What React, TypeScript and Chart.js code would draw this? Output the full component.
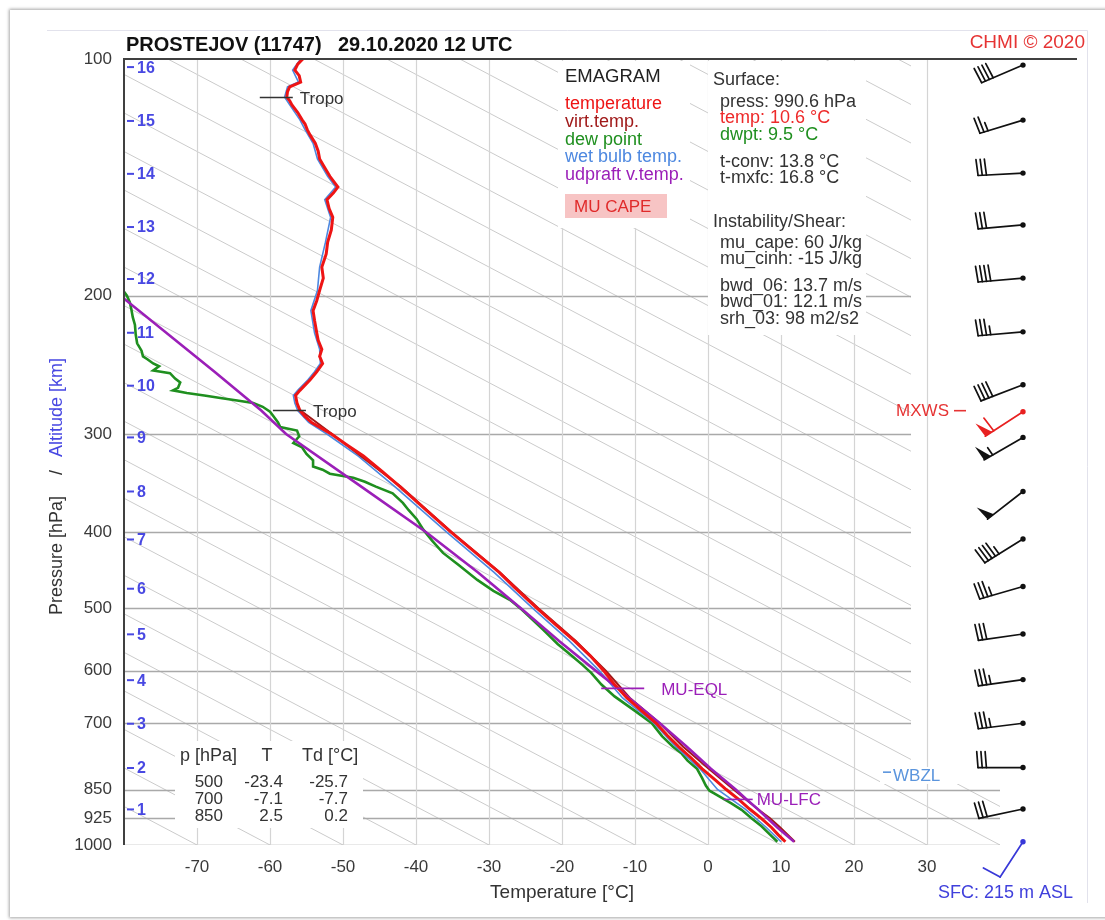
import React, { useEffect, useRef } from 'react';
import { Chart, registerables } from 'chart.js';

Chart.register(...registerables);

const FONT = "'Liberation Sans', Arial, Helvetica, sans-serif";

// ---------- axes ----------
const pressureTicks = [100, 200, 300, 400, 500, 600, 700, 850, 925, 1000];
const temperatureTicks = [-70, -60, -50, -40, -30, -20, -10, 0, 10, 20, 30];
// reference diagonal lines: temperature where each line meets 1000 hPa
const diagonalBaseT = [-80, -70, -60, -50, -40, -30, -20, -10, 0, 10, 20, 30, 40, 50, 60, 70, 80, 90, 100, 110, 120, 130, 140, 150, 160, 170, 180, 190, 200, 210, 220, 230, 240];
const diagonalSkew = 204; // °C shift per pressure decade

// ---------- temperature ----------
const tempP = [990.6, 970, 950, 925, 900, 875, 850, 825, 800, 775, 750, 725, 700, 675, 650, 625, 600, 575, 550, 525, 500, 475, 450, 425, 400, 375, 350, 335, 320, 310, 300, 294, 290, 285, 280, 274, 268, 264, 256, 250, 244, 239, 234, 228, 223, 215, 209, 203, 197, 190, 184, 177, 171, 165, 159, 155, 151, 148, 145.5, 141, 137, 134, 131, 128, 125, 123, 121, 119.5, 117, 114.4, 113, 111.8, 110, 108.5, 107, 105, 103.3, 101.5, 100];
const tempT = [10.6, 9.6, 8.7, 7.3, 5.7, 4.2, 2.5, 0.9, -0.8, -2.3, -4.0, -5.6, -7.1, -9.1, -11.1, -12.8, -14.3, -16.1, -18.3, -20.8, -23.4, -26.0, -28.6, -31.8, -35.2, -38.6, -42.2, -44.6, -47.2, -49.4, -51.6, -53.2, -54.3, -55.2, -55.9, -56.3, -56.5, -55.9, -54.5, -53.6, -52.8, -53.2, -52.9, -53.4, -53.6, -53.9, -54.1, -53.6, -53.2, -52.7, -52.9, -52.3, -52.1, -51.6, -51.4, -51.9, -52.2, -51.3, -50.7, -51.8, -52.6, -53.2, -53.4, -53.8, -54.5, -54.9, -55.2, -55.6, -56.2, -57.0, -57.3, -57.7, -57.6, -57.3, -55.8, -56.0, -56.6, -56.2, -55.5];

// ---------- virtual temperature ----------
const virtP = [990.6, 950, 925, 900, 850, 800, 750, 700, 650, 600, 550, 500, 450, 400, 350, 300, 280];
const virtT = [11.9, 9.9, 8.5, 6.8, 3.5, 0.1, -3.4, -6.6, -10.7, -14.0, -18.1, -23.2, -28.5, -35.1, -42.1, -51.5, -55.8];

// ---------- dew point ----------
const dewP = [990.6, 970, 946, 925, 902, 885, 871, 860, 853, 840, 822, 800, 781, 765, 750, 727, 700, 675, 647, 625, 604, 590, 576, 555, 532, 515, 500, 488, 475, 460, 440, 425, 410, 397, 385, 375, 367, 357, 350, 345, 341, 337, 333, 330, 324, 318, 312, 308, 302, 297, 294, 290, 285, 281, 277, 274, 272, 270, 268, 266, 264, 262, 258, 255, 251, 249, 246, 244, 241, 239, 235, 230, 224, 218, 213, 208, 204, 200, 195, 190];
const dewT = [9.5, 8.5, 7.3, 6.0, 4.6, 3.2, 1.9, 0.9, 0.2, -0.3, -0.8, -1.5, -2.8, -3.6, -4.8, -6.3, -7.7, -10.0, -12.8, -14.6, -16.0, -17.2, -18.5, -20.6, -22.6, -24.2, -25.7, -27.1, -29.4, -31.6, -34.2, -36.3, -37.8, -39.0, -39.9, -41.0, -41.8, -43.2, -45.5, -47.0, -48.6, -51.8, -52.8, -54.1, -54.1, -55.0, -55.6, -56.8, -56.0, -56.3, -58.6, -58.9, -59.5, -60.0, -61.0, -62.3, -64.5, -66.8, -69.0, -71.4, -73.3, -72.6, -72.3, -73.0, -73.7, -76.0, -75.2, -76.0, -76.8, -77.4, -77.6, -78.2, -78.4, -78.5, -78.8, -79.0, -79.2, -79.6, -80.5, -82.0];

// ---------- wet bulb ----------
const wetP = [990.6, 950, 900, 850, 800, 750, 700, 650, 600, 550, 500, 450, 400, 350, 320, 300, 290, 280, 274, 268, 264, 256, 250, 244, 234, 223, 209, 197, 184, 171, 159, 151, 145.5, 141, 134, 128, 123, 119.5, 114.4, 111.8, 108.5, 107, 103.3, 100];
const wetT = [10.0, 8.0, 5.1, 1.3, -1.1, -4.4, -7.4, -11.7, -14.9, -19.0, -24.0, -29.3, -35.8, -42.9, -47.9, -52.2, -54.7, -56.2, -56.6, -56.8, -56.2, -54.8, -53.9, -53.1, -53.2, -53.9, -54.4, -53.5, -53.2, -52.4, -51.7, -52.5, -51.0, -52.1, -53.5, -54.1, -55.2, -55.9, -57.3, -58.0, -57.6, -56.1, -56.9, -55.8];

// ---------- updraft virtual temperature ----------
const updP = [990.6, 950, 900, 875, 850, 800, 750, 700, 650, 632, 600, 550, 500, 450, 400, 350, 300, 280, 250, 200, 190];
const updT = [11.8, 9.5, 6.8, 5.3, 3.8, 0.4, -2.9, -6.6, -10.8, -12.3, -15.4, -20.4, -25.6, -31.5, -38.6, -47.5, -57.8, -61.2, -67.6, -80.5, -83.0];

// ---------- altitude scale (km) ----------
const altKm = [16, 15, 14, 13, 12, 11, 10, 9, 8, 7, 6, 5, 4, 3, 2, 1];
const altP = [102.4, 119.9, 140, 163.6, 190.5, 223, 260.4, 303, 355, 408.6, 472, 539.5, 617, 701, 798, 901];

// ---------- winds ----------
const windP = [101.8, 119.6, 139.7, 162.6, 190, 222.4, 259.7, 281, 303, 355, 408, 469, 539, 616, 700, 797, 900, 990.6];
const windDir = [247, 253, 267, 265, 265, 265, 249, 237, 240, 232, 238, 254, 262, 262, 263, 270, 258, 213];
const windSpd = [40, 25, 30, 30, 40, 35, 40, 60, 55, 50, 45, 35, 30, 35, 35, 30, 30, 10];
const windKind = ['n', 'n', 'n', 'n', 'n', 'n', 'n', 'max', 'n', 'n', 'n', 'n', 'n', 'n', 'n', 'n', 'n', 'sfc'];

// ---------- level markers ----------
const tropoP = [111.8, 280];
const tropoT = [-57.7, -55.9];
const eqlP = 632;
const eqlT = -12.3;
const lfcP = 875;
const lfcT = 5.3;
const wbzlP = 815;
const mxwsP = 281;

// ---------- table ----------
const tableP = [500, 700, 850];
const tableT = [-23.4, -7.1, 2.5];
const tableTd = [-25.7, -7.7, 0.2];

// ---------- texts ----------
const legendItems = ['temperature', 'virt.temp.', 'dew point', 'wet bulb temp.', 'udpraft v.temp.'];
const surfaceLines = ['press: 990.6 hPa', 'temp: 10.6 °C', 'dwpt: 9.5 °C'];
const convLines = ['t-conv: 13.8 °C', 't-mxfc: 16.8 °C'];
const instLines = ['mu_cape: 60 J/kg', 'mu_cinh: -15 J/kg'];
const shearLines = ['bwd_06: 13.7 m/s', 'bwd_01: 12.1 m/s', 'srh_03: 98 m2/s2'];

const C_RED = '#ee1414';
const C_VIRT = '#a01a1a';
const C_GREEN = '#1f8f1f';
const C_BLUE = '#4d88e0';
const C_PURPLE = '#9b1fb8';
const C_ALT = '#4848e2';
const C_TEXT = '#333333';

const pts = (p: number[], t: number[]) => p.map((v, i) => ({ x: t[i], y: v }));

function drawBarb(ctx: CanvasRenderingContext2D, cx: number, cy: number, dir: number, spd: number, color: string, L: number, fl: number) {
  const th = (dir * Math.PI) / 180;
  const dx = Math.sin(th);
  const dy = -Math.cos(th);
  const tx = cx + dx * L;
  const ty = cy + dy * L;
  let fx = -dy + dx * 0.08;
  let fy = dx + dy * 0.08;
  const n = Math.hypot(fx, fy);
  fx /= n; fy /= n;
  ctx.save();
  ctx.strokeStyle = color;
  ctx.fillStyle = color;
  ctx.lineWidth = 1.7;
  ctx.lineCap = 'round';
  ctx.beginPath();
  ctx.moveTo(cx, cy);
  ctx.lineTo(tx, ty);
  ctx.stroke();
  ctx.beginPath();
  ctx.arc(cx, cy, 2.7, 0, Math.PI * 2);
  ctx.fill();
  let rem = Math.round(spd / 5) * 5;
  let pos = 0;
  const sp = 4.2;
  while (rem >= 50) {
    const bx = tx - dx * pos, by = ty - dy * pos;
    const ex = tx - dx * (pos + 8), ey = ty - dy * (pos + 8);
    ctx.beginPath();
    ctx.moveTo(bx, by);
    ctx.lineTo(bx + fx * fl, by + fy * fl);
    ctx.lineTo(ex, ey);
    ctx.closePath();
    ctx.fill();
    pos += 10;
    rem -= 50;
  }
  while (rem >= 10) {
    const bx = tx - dx * pos, by = ty - dy * pos;
    ctx.beginPath();
    ctx.moveTo(bx, by);
    ctx.lineTo(bx + fx * fl, by + fy * fl);
    ctx.stroke();
    pos += sp;
    rem -= 10;
  }
  if (rem >= 5) {
    if (pos === 0) pos = sp;
    const bx = tx - dx * pos, by = ty - dy * pos;
    ctx.beginPath();
    ctx.moveTo(bx, by);
    ctx.lineTo(bx + fx * fl * 0.55, by + fy * fl * 0.55);
    ctx.stroke();
  }
  ctx.restore();
}

const backgroundPlugin = {
  id: 'emagramBackground',
  beforeDatasetsDraw(chart: any) {
    const { ctx, chartArea: a, scales } = chart;
    const x = scales.x, y = scales.y;
    ctx.save();
    ctx.beginPath();
    ctx.rect(a.left, a.top, a.right - a.left, a.bottom - a.top);
    ctx.clip();
    // diagonal reference lines
    ctx.strokeStyle = '#cbcbcb';
    ctx.lineWidth = 1;
    for (const t0 of diagonalBaseT) {
      ctx.beginPath();
      ctx.moveTo(x.getPixelForValue(t0), y.getPixelForValue(1000));
      ctx.lineTo(x.getPixelForValue(t0 - diagonalSkew), y.getPixelForValue(100));
      ctx.stroke();
    }
    // isobars
    ctx.strokeStyle = '#a9a9a9';
    ctx.lineWidth = 1.6;
    for (const p of pressureTicks) {
      if (p === 100) continue;
      const py = Math.round(y.getPixelForValue(p)) + 0.5;
      ctx.beginPath();
      ctx.moveTo(a.left, py);
      ctx.lineTo(a.right, py);
      ctx.stroke();
    }
    ctx.restore();
    ctx.save();
    // wind panel background
    ctx.fillStyle = '#ffffff';
    ctx.fillRect(911, a.top + 1, a.right - 911 + 2, 780 - a.top);
    // isotherms
    ctx.strokeStyle = '#d4d4d4';
    ctx.lineWidth = 1.2;
    for (const t of temperatureTicks) {
      const px = Math.round(x.getPixelForValue(t)) + 0.5;
      ctx.beginPath();
      ctx.moveTo(px, a.top);
      ctx.lineTo(px, a.bottom);
      ctx.stroke();
    }
    // text boxes
    ctx.fillStyle = '#ffffff';
    ctx.fillRect(558, a.top + 2, 132, 167);
    ctx.fillRect(708, a.top + 2, 158, 274);
    ctx.fillRect(175, 741, 188, 87);
    ctx.fillRect(880, 767, 96, 17);
    ctx.restore();
  },
  afterDatasetsDraw(chart: any) {
    const { ctx, chartArea: a, scales } = chart;
    const x = scales.x, y = scales.y;
    ctx.save();
    ctx.textBaseline = 'middle';

    // frame
    ctx.strokeStyle = '#e2e2ec';
    ctx.lineWidth = 1;
    ctx.beginPath();
    ctx.moveTo(47, 30.5);
    ctx.lineTo(1087.5, 30.5);
    ctx.lineTo(1087.5, 903);
    ctx.stroke();

    // top border and left axis
    ctx.strokeStyle = '#404040';
    ctx.lineWidth = 2;
    ctx.beginPath();
    ctx.moveTo(a.left - 1, a.top);
    ctx.lineTo(1077, a.top);
    ctx.stroke();
    ctx.beginPath();
    ctx.moveTo(a.left, a.top);
    ctx.lineTo(a.left, a.bottom);
    ctx.stroke();

    // title
    ctx.fillStyle = '#111';
    ctx.font = `bold 20px ${FONT}`;
    ctx.textAlign = 'left';
    ctx.fillText('PROSTEJOV (11747)', 126, 45);
    ctx.fillText('29.10.2020 12 UTC', 338, 45);
    ctx.fillStyle = '#e63434';
    ctx.font = `19px ${FONT}`;
    ctx.textAlign = 'right';
    ctx.fillText('CHMI © 2020', 1085, 43);

    // y axis title
    ctx.save();
    ctx.translate(57, 615);
    ctx.rotate(-Math.PI / 2);
    ctx.textAlign = 'left';
    ctx.font = `18px ${FONT}`;
    ctx.fillStyle = C_TEXT;
    ctx.fillText('Pressure [hPa]', 0, 0);
    ctx.fillText('/', 140, 0);
    ctx.fillStyle = C_ALT;
    ctx.fillText('Altitude [km]', 158, 0);
    ctx.restore();

    // altitude labels
    ctx.font = `bold 16px ${FONT}`;
    ctx.textAlign = 'left';
    ctx.fillStyle = C_ALT;
    ctx.strokeStyle = C_ALT;
    ctx.lineWidth = 2;
    altKm.forEach((km, i) => {
      const py = y.getPixelForValue(altP[i]);
      ctx.beginPath();
      ctx.moveTo(a.left + 3, py);
      ctx.lineTo(a.left + 10, py);
      ctx.stroke();
      ctx.fillText(String(km), a.left + 13, py + 1);
    });

    // legend
    ctx.fillStyle = '#222';
    ctx.font = `18.5px ${FONT}`;
    ctx.fillText('EMAGRAM', 565, 77);
    const legendColors = [C_RED, C_VIRT, C_GREEN, C_BLUE, C_PURPLE];
    ctx.font = `18px ${FONT}`;
    legendItems.forEach((t, i) => {
      ctx.fillStyle = legendColors[i];
      ctx.fillText(t, 565, 104 + i * 17.8);
    });
    ctx.fillStyle = '#f7c4c4';
    ctx.fillRect(565, 194, 102, 24);
    ctx.fillStyle = '#e02a2a';
    ctx.font = `17px ${FONT}`;
    ctx.fillText('MU CAPE', 574, 207);

    // info box
    ctx.font = `18px ${FONT}`;
    ctx.fillStyle = C_TEXT;
    ctx.fillText('Surface:', 713, 80);
    const surfColors = [C_TEXT, '#ee2a2a', C_GREEN];
    surfaceLines.forEach((t, i) => {
      ctx.fillStyle = surfColors[i];
      ctx.fillText(t, 720, 102 + i * 16.5);
    });
    ctx.fillStyle = C_TEXT;
    convLines.forEach((t, i) => ctx.fillText(t, 720, 162 + i * 16.5));
    ctx.fillText('Instability/Shear:', 713, 222);
    instLines.forEach((t, i) => ctx.fillText(t, 720, 243 + i * 16.5));
    shearLines.forEach((t, i) => ctx.fillText(t, 720, 286 + i * 16.5));

    // table
    ctx.font = `18px ${FONT}`;
    ctx.fillStyle = C_TEXT;
    ctx.textAlign = 'left';
    ctx.fillText('p [hPa]', 180, 756);
    ctx.textAlign = 'center';
    ctx.fillText('T', 267, 756);
    ctx.textAlign = 'left';
    ctx.fillText('Td [°C]', 302, 756);
    ctx.textAlign = 'right';
    ctx.font = `17px ${FONT}`;
    tableP.forEach((p, i) => {
      const ry = 782 + i * 17;
      ctx.fillText(String(p), 223, ry);
      ctx.fillText(tableT[i].toFixed(1), 283, ry);
      ctx.fillText(tableTd[i].toFixed(1), 348, ry);
    });

    // tropopause markers
    ctx.textAlign = 'left';
    ctx.font = `17px ${FONT}`;
    ctx.strokeStyle = '#333';
    ctx.lineWidth = 1.6;
    tropoP.forEach((p, i) => {
      const px = x.getPixelForValue(tropoT[i]);
      const py = Math.round(y.getPixelForValue(p)) + 0.5;
      ctx.beginPath();
      ctx.moveTo(px - 27, py);
      ctx.lineTo(px + 6, py);
      ctx.stroke();
      ctx.fillStyle = C_TEXT;
      ctx.fillText('Tropo', px + 13, py + 2);
    });

    // MU-EQL / MU-LFC
    ctx.strokeStyle = C_PURPLE;
    ctx.fillStyle = C_PURPLE;
    ctx.lineWidth = 1.6;
    {
      const px = x.getPixelForValue(eqlT);
      const py = y.getPixelForValue(eqlP);
      ctx.beginPath();
      ctx.moveTo(px - 17, py);
      ctx.lineTo(px + 26, py);
      ctx.stroke();
      ctx.fillText('MU-EQL', px + 43, py + 2);
    }
    {
      const px = x.getPixelForValue(lfcT);
      const py = y.getPixelForValue(lfcP);
      ctx.beginPath();
      ctx.moveTo(px - 23, py);
      ctx.lineTo(px + 6, py);
      ctx.stroke();
      ctx.fillText('MU-LFC', px + 10, py + 1);
    }

    // WBZL
    {
      const py = y.getPixelForValue(wbzlP);
      ctx.strokeStyle = '#5b95dd';
      ctx.fillStyle = '#5b95dd';
      ctx.beginPath();
      ctx.moveTo(883, py - 3);
      ctx.lineTo(891, py - 3);
      ctx.stroke();
      ctx.fillText('WBZL', 893, py + 1);
    }

    // MXWS
    {
      const py = y.getPixelForValue(mxwsP);
      ctx.fillStyle = '#e63434';
      ctx.strokeStyle = '#e63434';
      ctx.textAlign = 'right';
      ctx.fillText('MXWS', 949, py);
      ctx.beginPath();
      ctx.moveTo(954, py - 1);
      ctx.lineTo(966, py - 1);
      ctx.stroke();
    }

    // wind barbs
    const bx = a.right + 23;
    windP.forEach((p, i) => {
      const py = y.getPixelForValue(p);
      const kind = windKind[i];
      const color = kind === 'max' ? '#e82020' : kind === 'sfc' ? '#3838d8' : '#111111';
      drawBarb(ctx, bx, py, windDir[i], windSpd[i], color, kind === 'sfc' ? 42 : 45, kind === 'sfc' ? 19 : 16);
    });

    // surface label
    ctx.textAlign = 'left';
    ctx.fillStyle = '#4040dc';
    ctx.font = `18px ${FONT}`;
    ctx.fillText('SFC: 215 m ASL', 938, 893);

    ctx.restore();
  },
};

export default function App() {
  const canvasRef = useRef<HTMLCanvasElement | null>(null);

  useEffect(() => {
    if (!canvasRef.current) return;
    Chart.defaults.font.family = FONT;
    const chart = new Chart(canvasRef.current, {
      type: 'scatter',
      data: {
        datasets: [
          { label: 'temperature', data: pts(tempP, tempT), showLine: true, borderColor: C_RED, borderWidth: 3, pointRadius: 0 },
          { label: 'udpraft v.temp.', data: pts(updP, updT), showLine: true, borderColor: C_PURPLE, borderWidth: 2.6, pointRadius: 0 },
          { label: 'virt.temp.', data: pts(virtP, virtT), showLine: true, borderColor: C_VIRT, borderWidth: 2, pointRadius: 0 },
          { label: 'wet bulb temp.', data: pts(wetP, wetT), showLine: true, borderColor: C_BLUE, borderWidth: 1.6, pointRadius: 0 },
          { label: 'dew point', data: pts(dewP, dewT), showLine: true, borderColor: C_GREEN, borderWidth: 2.6, pointRadius: 0 },
        ],
      },
      options: {
        responsive: false,
        animation: false,
        events: [],
        layout: { padding: { left: 0, top: 59, right: 105, bottom: 0 } },
        plugins: { legend: { display: false }, tooltip: { enabled: false } },
        elements: { line: { tension: 0 }, point: { radius: 0 } },
        scales: {
          x: {
            type: 'linear',
            min: -80,
            max: 40,
            position: 'bottom',
            grid: { display: false, drawTicks: false },
            border: { display: false },
            afterBuildTicks: (s: any) => { s.ticks = temperatureTicks.map((v) => ({ value: v })); },
            afterFit: (s: any) => { s.height = 75; },
            ticks: { font: { size: 17, family: FONT }, color: '#3a3a3a', padding: 12, maxRotation: 0, autoSkip: false, callback: (v: any) => String(v) },
            title: { display: true, text: 'Temperature [°C]', font: { size: 19, family: FONT }, color: C_TEXT, padding: { top: 0, bottom: 16 } },
          },
          y: {
            type: 'logarithmic',
            min: 100,
            max: 1000,
            reverse: true,
            position: 'left',
            grid: { display: false, drawTicks: false },
            border: { display: false },
            afterBuildTicks: (s: any) => { s.ticks = pressureTicks.map((v) => ({ value: v })); },
            afterFit: (s: any) => { s.width = 124; },
            ticks: { font: { size: 17, family: FONT }, color: '#3a3a3a', padding: 12, autoSkip: false, callback: (v: any) => String(v) },
          },
        },
      } as any,
      plugins: [backgroundPlugin],
    });
    return () => chart.destroy();
  }, []);

  return (
    <div style={{ position: 'absolute', left: 0, top: 0, width: 1105, height: 920, background: '#ffffff', overflow: 'hidden' }}>
      <div style={{ position: 'absolute', left: 10, top: 10, width: 1110, height: 907, background: '#ffffff', boxShadow: '0 0 3px 1px rgba(0,0,0,0.35)' }} />
      <canvas ref={canvasRef} width={1105} height={920} style={{ position: 'absolute', left: 0, top: 0, display: 'block' }} />
    </div>
  );
}
